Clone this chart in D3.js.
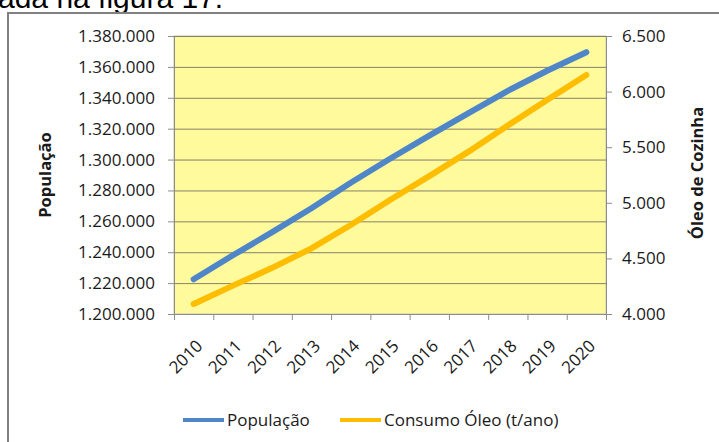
<!DOCTYPE html>
<html>
<head>
<meta charset="utf-8">
<script src="https://cdn.jsdelivr.net/npm/d3@7"></script>
<style>
body { margin: 0; background: #fff; }
svg { display: block; }
text { font-family: "Open Sans", sans-serif; fill: #1a1a1a; }
</style>
</head>
<body>
<svg width="719" height="442"></svg>
<script>
// values
var years = ["2010","2011","2012","2013","2014","2015","2016","2017","2018","2019","2020"];
var populacao = [1222500, 1238000, 1253000, 1268500, 1285000, 1300500, 1315500, 1330000, 1344500, 1357500, 1369500];
var oleo = [4090, 4255, 4415, 4590, 4800, 5025, 5240, 5460, 5695, 5925, 6150];
var leftTicks = [1200000, 1220000, 1240000, 1260000, 1280000, 1300000, 1320000, 1340000, 1360000, 1380000];
var rightTicks = [4000, 4500, 5000, 5500, 6000, 6500];
var seriesNames = ["População", "Consumo Óleo (t/ano)"];
var seriesColors = ["#4f86c8", "#ffbd00"];

var svg = d3.select("svg");
var plotL = 174, plotR = 606, plotT = 36, plotB = 314;

var ptBR = d3.formatLocale({ decimal: ",", thousands: ".", grouping: [3], currency: ["R$", ""] });
var fmt = ptBR.format(",d");

// caption text of the page, cut off at the top
svg.append("text").attr("x", -2).attr("y", 8).style("font-family", "Liberation Sans, Arial, sans-serif")
  .style("font-size", "30px").style("fill", "#000").text("ada na figura 17.");

// outer chart frame
svg.append("rect").attr("x", 8).attr("y", 13).attr("width", 730).attr("height", 460)
  .attr("fill", "none").attr("stroke", "#808080").attr("stroke-width", 2);

var xIdx = d3.scaleLinear().domain([0, years.length]).range([plotL, plotR]);
var xBand = d3.scaleBand().domain(years).range([plotL, plotR]).padding(0);
var yLeft = d3.scaleLinear().domain([1200000, 1380000]).range([plotB, plotT]);
var yRight = d3.scaleLinear().domain([4000, 6500]).range([plotB, plotT]);

// plot area
svg.append("rect").attr("x", plotL).attr("y", plotT).attr("width", plotR - plotL).attr("height", plotB - plotT)
  .attr("fill", "#fffa9c").attr("stroke", "#c8c8a8").attr("stroke-width", 1);

// grid lines
svg.append("g").selectAll("line").data(leftTicks.slice(1)).enter().append("line")
  .attr("x1", plotL).attr("x2", plotR)
  .attr("y1", d => yLeft(d) + 0.5).attr("y2", d => yLeft(d) + 0.5)
  .attr("stroke", "#85806a").attr("stroke-width", 1);

// left axis
var leftAxisG = svg.append("g").attr("transform", `translate(${plotL},0)`)
  .call(d3.axisLeft(yLeft).tickValues(leftTicks).tickFormat(fmt).tickSize(6).tickPadding(13));
// right axis
var rightAxisG = svg.append("g").attr("transform", `translate(${plotR},0)`)
  .call(d3.axisRight(yRight).tickValues(rightTicks).tickFormat(fmt).tickSize(6).tickPadding(10));
// bottom axis: ticks at category boundaries
var bottomTicksG = svg.append("g").attr("transform", `translate(0,${plotB})`)
  .call(d3.axisBottom(xIdx).tickValues(d3.range(years.length + 1)).tickFormat("").tickSize(6));
// bottom labels at category centres
var bottomLabelsG = svg.append("g").attr("transform", `translate(0,${plotB})`)
  .call(d3.axisBottom(xBand).tickSize(0).tickPadding(0));
bottomLabelsG.select(".domain").remove();
bottomLabelsG.selectAll("text")
  .attr("text-anchor", "end").attr("x", 0).attr("y", 0).attr("dy", 0)
  .attr("transform", "translate(10,33) rotate(-45)");

svg.selectAll(".domain").attr("stroke", "#8c8c8c");
svg.selectAll(".tick line").attr("stroke", "#8c8c8c");
svg.selectAll(".tick text").style("font-family", "Open Sans, sans-serif").style("font-size", "17px").attr("fill", "#1a1a1a");

// lines
var linePop = d3.line().x((d, i) => xIdx(i + 0.5)).y(d => yLeft(d));
var lineOleo = d3.line().x((d, i) => xIdx(i + 0.5)).y(d => yRight(d));
svg.append("path").datum(oleo).attr("d", lineOleo).attr("fill", "none")
  .attr("stroke", seriesColors[1]).attr("stroke-width", 6).attr("stroke-linecap", "round").attr("stroke-linejoin", "round");
svg.append("path").datum(populacao).attr("d", linePop).attr("fill", "none")
  .attr("stroke", seriesColors[0]).attr("stroke-width", 6).attr("stroke-linecap", "round").attr("stroke-linejoin", "round");

// axis titles
svg.append("text").attr("transform", "translate(51,175) rotate(-90)").attr("text-anchor", "middle")
  .style("font-size", "16.5px").style("font-weight", "bold").text("População");
svg.append("text").attr("transform", "translate(703,173) rotate(-90)").attr("text-anchor", "middle")
  .style("font-size", "16.5px").style("font-weight", "bold").text("Óleo de Cozinha");

// legend
var legendX = [183, 340];
var legend = svg.append("g").selectAll("g").data(seriesNames).enter().append("g")
  .attr("transform", (d, i) => `translate(${legendX[i]},420)`);
legend.append("line").attr("x1", 0).attr("x2", 41).attr("y1", 0).attr("y2", 0)
  .attr("stroke", (d, i) => seriesColors[i]).attr("stroke-width", 4);
legend.append("text").attr("x", 44).attr("y", 6).style("font-size", "17px").text(d => d);
</script>
</body>
</html>
